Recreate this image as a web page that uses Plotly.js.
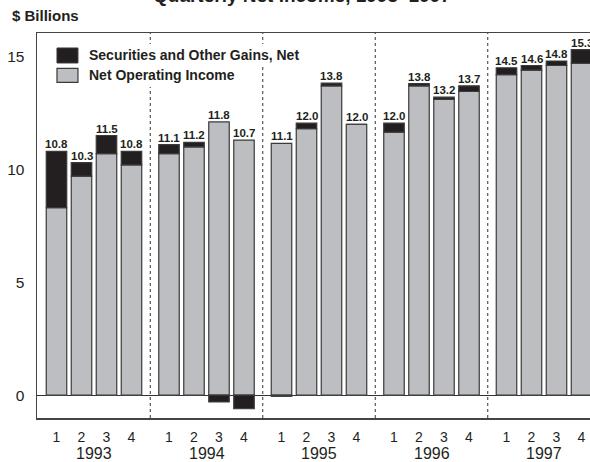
<!DOCTYPE html>
<html>
<head>
<meta charset="utf-8">
<script src="https://cdn.plot.ly/plotly-3.0.1.min.js"></script>
<style>
  html, body { margin: 0; padding: 0; background: #ffffff; overflow: hidden; width: 590px; height: 462px; }
  #chart { position: absolute; left: 0; top: -20px; width: 620px; height: 500px; }
</style>
</head>
<body>
<div id="chart"></div>
<script>
// ---- data ----
const years = ['1993', '1994', '1995', '1996', '1997'];
const quarters = ['1', '2', '3', '4'];
const netOperatingIncome = [8.3, 9.7, 10.7, 10.2, 10.7, 11.0, 12.1, 11.3, 11.15, 11.8, 13.7, 12.0, 11.65, 13.7, 13.1, 13.45, 14.2, 14.4, 14.6, 14.7];
const securitiesGains = [2.5, 0.6, 0.8, 0.6, 0.4, 0.2, -0.3, -0.6, -0.05, 0.25, 0.12, 0.0, 0.4, 0.1, 0.1, 0.25, 0.3, 0.2, 0.2, 0.6];
const totalLabels = ['10.8', '10.3', '11.5', '10.8', '11.1', '11.2', '11.8', '10.7', '11.1', '12.0', '13.8', '12.0', '12.0', '13.8', '13.2', '13.7', '14.5', '14.6', '14.8', '15.3'];
const yTicks = [0, 5, 10, 15];

// ---- layout helpers ----
const DIV_TOP = -20;           // div offset in page
const PLOT = {left: 37, right: 601.5, top: 33, bottom: 418.3}; // page px
const W = 620, H = 500;
const YEAR_STEP = 4.5;
function xpos(yi, qi) { return yi * YEAR_STEP + qi; }
function px(xp) { return (xp - PLOT.left) / (PLOT.right - PLOT.left); }
function py(yp) { return (PLOT.bottom - yp) / (PLOT.bottom - PLOT.top); }

const xs = [], tickText = [];
years.forEach((y, yi) => quarters.forEach((q, qi) => { xs.push(xpos(yi, qi)); tickText.push(q); }));

const GRAY = '#bdbec2', BLACK = '#231f20', EDGE = '#3a3a3a', TXT = '#231f20';
const FONT = 'Liberation Sans, Arial, sans-serif';

const traces = [
  {type: 'bar', x: xs, y: netOperatingIncome, width: 0.82, name: 'Net Operating Income',
   marker: {color: GRAY, line: {color: EDGE, width: 1.2}}, hoverinfo: 'skip'},
  {type: 'bar', x: xs, y: securitiesGains, width: 0.82, name: 'Securities and Other Gains, Net',
   marker: {color: BLACK, line: {color: EDGE, width: 1.2}}, hoverinfo: 'skip'}
];

const annotations = [];
// total value labels above each bar
xs.forEach((x, i) => {
  const top = Math.max(netOperatingIncome[i], netOperatingIncome[i] + securitiesGains[i]);
  annotations.push({x: x, y: top, xref: 'x', yref: 'y', text: '<b>' + totalLabels[i] + '</b>',
    showarrow: false, yanchor: 'bottom', xanchor: 'center', yshift: -1,
    font: {family: FONT, size: 11.5, color: TXT}});
});
// year labels
years.forEach((y, yi) => {
  annotations.push({x: xpos(yi, 1.5), y: py(453.5), xref: 'x', yref: 'paper', text: y,
    showarrow: false, xanchor: 'center', yanchor: 'middle',
    font: {family: FONT, size: 16, color: TXT}});
});
// title (partly cut off at top, as in the reference) and unit label
annotations.push({x: px(302), y: py(8), xref: 'paper', yref: 'paper', text: '<b>Quarterly Net Income, 1993–1997</b>',
  showarrow: false, xanchor: 'center', yanchor: 'bottom', font: {family: FONT, size: 19, color: TXT}});
annotations.push({x: px(10), y: py(15), xref: 'paper', yref: 'paper', text: '<b>$ Billions</b>',
  showarrow: false, xanchor: 'left', yanchor: 'middle', font: {family: FONT, size: 15, color: TXT}});
// legend text
annotations.push({x: px(87), y: py(55.5), xref: 'paper', yref: 'paper', text: '<b>Securities and Other Gains, Net</b>',
  showarrow: false, xanchor: 'left', yanchor: 'middle', font: {family: FONT, size: 14, color: TXT}});
annotations.push({x: px(87), y: py(75.5), xref: 'paper', yref: 'paper', text: '<b>Net Operating Income</b>',
  showarrow: false, xanchor: 'left', yanchor: 'middle', font: {family: FONT, size: 14, color: TXT}});

const shapes = [];
// dotted separators between years
for (let yi = 1; yi < years.length; yi++) {
  const sx = xpos(yi, -0.75);
  shapes.push({type: 'line', xref: 'x', yref: 'paper', x0: sx, x1: sx, y0: 0, y1: 1,
    line: {color: '#333333', width: 1, dash: 'dot'}, layer: 'above'});
}
// white background behind legend rows
shapes.push({type: 'rect', xref: 'paper', yref: 'paper', x0: px(52), x1: px(304), y0: py(44), y1: py(66),
  fillcolor: '#ffffff', line: {width: 0}, layer: 'above'});
shapes.push({type: 'rect', xref: 'paper', yref: 'paper', x0: px(52), x1: px(240), y0: py(66), y1: py(87),
  fillcolor: '#ffffff', line: {width: 0}, layer: 'above'});
// legend swatches
shapes.push({type: 'rect', xref: 'paper', yref: 'paper', x0: px(57), x1: px(78), y0: py(48), y1: py(63),
  fillcolor: BLACK, line: {color: EDGE, width: 1}, layer: 'above'});
shapes.push({type: 'rect', xref: 'paper', yref: 'paper', x0: px(57), x1: px(78), y0: py(68.5), y1: py(82.5),
  fillcolor: GRAY, line: {color: EDGE, width: 1.2}, layer: 'above'});

const layout = {
  width: W, height: H,
  margin: {l: PLOT.left, r: W - PLOT.right, t: PLOT.top - DIV_TOP, b: H - (PLOT.bottom - DIV_TOP)},
  paper_bgcolor: '#ffffff', plot_bgcolor: '#ffffff',
  barmode: 'relative', bargap: 0, showlegend: false,
  font: {family: FONT, color: TXT},
  xaxis: {range: [-0.78, 21.78], tickvals: xs, ticktext: tickText, ticks: '', showgrid: false,
    zeroline: false, showline: true, mirror: true, linecolor: '#444444', linewidth: 1.5,
    tickfont: {family: FONT, size: 14, color: TXT}, ticklabelstandoff: 6},
  yaxis: {range: [-1.01, 16.04], tickvals: yTicks, ticks: '', showgrid: false,
    zeroline: true, zerolinecolor: '#333333', zerolinewidth: 1,
    showline: true, mirror: true, linecolor: '#444444', linewidth: 1.5,
    tickfont: {family: FONT, size: 15.5, color: TXT}, ticklabelstandoff: 8},
  annotations: annotations,
  shapes: shapes
};

Plotly.newPlot('chart', traces, layout, {staticPlot: true, displayModeBar: false});
</script>
</body>
</html>
